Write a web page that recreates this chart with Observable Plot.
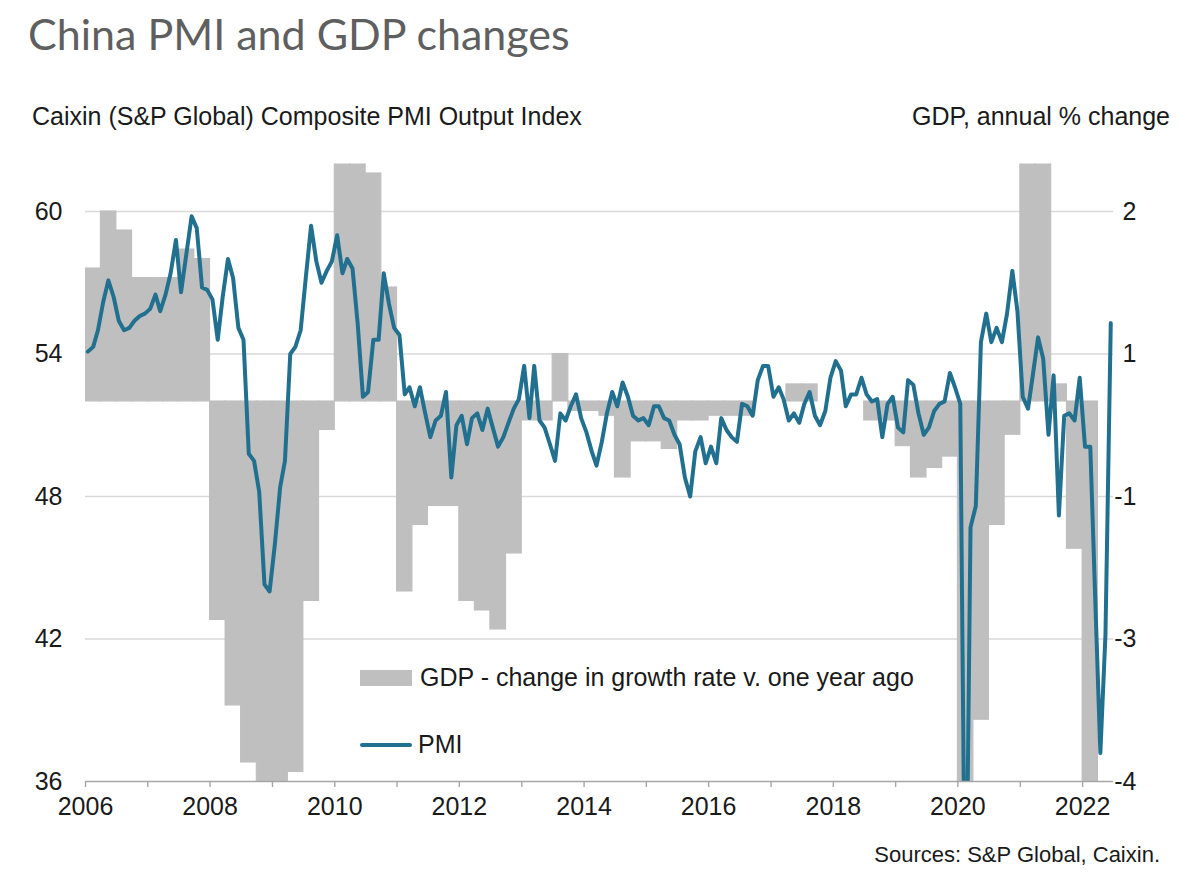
<!DOCTYPE html>
<html>
<head>
<meta charset="utf-8">
<script src="https://cdn.jsdelivr.net/npm/d3@7"></script>
<script src="https://cdn.jsdelivr.net/npm/@observablehq/plot@0.6"></script>
<style>
  html, body { margin: 0; padding: 0; background: #ffffff; }
  body { width: 1200px; height: 886px; position: relative; overflow: hidden;
         font-family: "Liberation Sans", Arial, sans-serif; color: #1a1a1a; }
  .abs { position: absolute; white-space: nowrap; line-height: 1.15; }
  #title { left: 28px; top: 8px; font-family: Lato, "Open Sans", sans-serif; font-size: 43px; line-height: 1.2; color: #5f5f5f; }
  #leftTitle { left: 32px; top: 102px; font-size: 25px; }
  #rightTitle { right: 30px; top: 102px; font-size: 25px; }
  #chart { position: absolute; left: 0; top: 140px; }
  .swatch { position: absolute; }
  #legGdp { left: 360px; top: 670px; width: 52px; height: 16px; background: #bfbfbf; }
  #legPmi { left: 360px; top: 743px; width: 52px; height: 4px; background: #22708f; border-radius: 2px; }
  #legGdpText { left: 420px; top: 663px; font-size: 25px; }
  #legPmiText { left: 418px; top: 730px; font-size: 25px; }
  #source { right: 40px; top: 842px; font-size: 22px; }
</style>
</head>
<body>
<div id="title" class="abs">China PMI and GDP changes</div>
<div id="leftTitle" class="abs">Caixin (S&amp;P Global) Composite PMI Output Index</div>
<div id="rightTitle" class="abs">GDP, annual % change</div>
<div id="chart"></div>
<div id="legGdp" class="swatch"></div>
<div id="legGdpText" class="abs">GDP - change in growth rate v. one year ago</div>
<div id="legPmi" class="swatch"></div>
<div id="legPmiText" class="abs">PMI</div>
<div id="source" class="abs">Sources: S&amp;P Global, Caixin.</div>

<script>
// ---- Data ----
// Caixin composite PMI output index, monthly, Jan 2006 .. Jun 2022
const pmiStartYear = 2006;
const pmiValues = [
  // 2006
  54.1, 54.3, 55.0, 56.2, 57.1, 56.4, 55.4, 55.0, 55.1, 55.4, 55.6, 55.7,
  // 2007
  55.9, 56.5, 55.8, 56.5, 57.4, 58.8, 56.6, 58.2, 59.8, 59.3, 56.8, 56.7,
  // 2008
  56.3, 54.6, 56.4, 58.0, 57.2, 55.1, 54.6, 49.8, 49.5, 48.2, 44.3, 44.0,
  // 2009
  46.0, 48.4, 49.5, 54.0, 54.3, 55.0, 57.2, 59.4, 57.9, 57.0, 57.5, 57.9,
  // 2010
  59.0, 57.4, 58.0, 57.6, 55.3, 52.2, 52.4, 54.6, 54.6, 57.4, 56.1, 55.1,
  // 2011
  54.8, 52.3, 52.6, 51.8, 52.6, 51.5, 50.5, 51.2, 51.4, 52.4, 48.8, 51.0,
  // 2012
  51.4, 50.2, 51.3, 51.5, 50.8, 51.7, 50.9, 50.1, 50.5, 51.1, 51.7, 52.1,
  // 2013
  53.5, 51.3, 53.5, 51.2, 50.9, 50.2, 49.5, 51.5, 51.2, 51.8, 52.3, 51.3,
  // 2014
  50.7, 49.9, 49.3, 50.3, 51.5, 52.4, 51.8, 52.8, 52.2, 51.4, 51.2, 51.3,
  // 2015
  51.0, 51.8, 51.8, 51.3, 51.2, 50.6, 50.2, 48.8, 48.0, 49.9, 50.5, 49.4,
  // 2016
  50.1, 49.4, 51.3, 50.8, 50.5, 50.3, 51.9, 51.8, 51.4, 52.9, 53.5, 53.5,
  // 2017
  52.2, 52.6, 52.1, 51.2, 51.5, 51.1, 51.9, 52.4, 51.4, 51.0, 51.6, 53.0,
  // 2018
  53.7, 53.3, 51.8, 52.3, 52.3, 53.0, 52.3, 52.0, 52.1, 50.5, 51.9, 52.2,
  // 2019
  50.9, 50.7, 52.9, 52.7, 51.5, 50.6, 50.9, 51.6, 51.9, 52.0, 53.2, 52.6,
  // 2020
  51.9, 27.5, 46.7, 47.6, 54.5, 55.7, 54.5, 55.1, 54.5, 55.7, 57.5, 55.8,
  // 2021
  52.2, 51.7, 53.1, 54.7, 53.8, 50.6, 53.1, 47.2, 51.4, 51.5, 51.2, 53.0,
  // 2022
  50.1, 50.1, 43.9, 37.2, 42.2, 55.3
];

// GDP: change in annual growth rate v. one year ago (percentage points), quarterly, 2006Q1 .. 2022Q1
const gdpStartYear = 2006;
const gdpChange = [
  1.4, 2.0, 1.8, 1.3,        // 2006
  1.3, 1.3, 1.6, 1.5,        // 2007
  -2.3, -3.2, -3.8, -4.8,    // 2008
  -5.1, -3.9, -2.1, -0.3,    // 2009
  5.8, 2.6, 2.4, 1.2,        // 2010
  -2.0, -1.3, -1.1, -1.1,    // 2011
  -2.1, -2.2, -2.4, -1.6,    // 2012
  -0.2, -0.2, 0.5, -0.1,     // 2013
  -0.1, -0.15, -0.8, -0.42,  // 2014
  -0.42, -0.5, -0.2, -0.2,   // 2015
  -0.15, -0.15, -0.15, 0,    // 2016
  0, 0.18, 0.18, 0,          // 2017
  0, 0, -0.2, -0.2,          // 2018
  -0.47, -0.8, -0.7, -0.58,  // 2019
  -13.2, -3.35, -1.3, -0.35, // 2020
  25.1, 4.7, 0.18, -1.55,    // 2021
  -13.5                      // 2022
];

// Axis ticks / labels
const xLabelYears = [2006, 2008, 2010, 2012, 2014, 2016, 2018, 2020, 2022];
const xTickYears = d3.range(2006, 2023);
const leftTicks = [36, 42, 48, 54, 60];
const rightTickLabels = ["-4", "-3", "-1", "1", "2"]; // shown against left ticks, bottom to top

// GDP (pp) placed on the PMI axis: 0 pp sits at PMI 52, 1 pp = 4 index points
const gdpZeroOnPmi = 52;
const pmiPerGdpPoint = 4;
const gdpOnPmi = g => gdpZeroOnPmi + pmiPerGdpPoint * g;

// ---- Tables ----
const pmiData = pmiValues.map((v, i) => ({ date: new Date(Date.UTC(pmiStartYear, i, 15)), value: v }));
const gdpData = gdpChange.map((g, i) => ({
  start: new Date(Date.UTC(gdpStartYear, 3 * i, 1)),
  end: new Date(Date.UTC(gdpStartYear, 3 * i + 3, 1)),
  g
}));
const yearDate = y => new Date(Date.UTC(y, 0, 1));

const gdpColor = "#bfbfbf";
const pmiColor = "#22708f";

const chart = Plot.plot({
  width: 1200,
  height: 700,
  marginLeft: 85,
  marginRight: 87,
  marginTop: 23.5,
  marginBottom: 59,
  style: { fontFamily: "'Liberation Sans', Arial, sans-serif", fontSize: "25px", color: "#1a1a1a", background: "transparent" },
  x: { type: "utc", domain: [yearDate(2006), new Date(Date.UTC(2022, 6, 1))], axis: null },
  y: { domain: [36, 62], axis: null },
  marks: [
    Plot.gridY(leftTicks.filter(t => t > 36), { stroke: "#d9d9d9", strokeOpacity: 1, strokeWidth: 1.4 }),
    Plot.rect(gdpData, {
      x1: "start", x2: "end",
      y1: () => gdpOnPmi(0), y2: d => gdpOnPmi(d.g),
      fill: gdpColor, stroke: gdpColor, strokeWidth: 1.1, clip: true
    }),
    Plot.line(pmiData, { x: "date", y: "value", stroke: pmiColor, strokeWidth: 4, strokeLinejoin: "round", strokeLinecap: "round", clip: true }),
    Plot.ruleY([36], { stroke: "#a6a6a6", strokeWidth: 1.6 }),
    Plot.axisX({ ticks: xTickYears.map(yearDate), tickFormat: () => "", tickSize: 6, stroke: "#a6a6a6", strokeWidth: 1.4, label: null }),
    Plot.axisX({ ticks: xLabelYears.map(yearDate), tickFormat: d => String(d.getUTCFullYear()), tickSize: 0, tickPadding: 16, label: null, fontSize: 25 }),
    Plot.axisY({ anchor: "left", ticks: leftTicks, tickSize: 0, tickPadding: 23, label: null, fontSize: 25 }),
    Plot.axisY({ anchor: "right", ticks: leftTicks, tickFormat: d => rightTickLabels[leftTicks.indexOf(d)], tickSize: 0, tickPadding: 23, textAnchor: "end", label: null, fontSize: 25 })
  ]
});
document.getElementById("chart").appendChild(chart);
</script>
</body>
</html>
